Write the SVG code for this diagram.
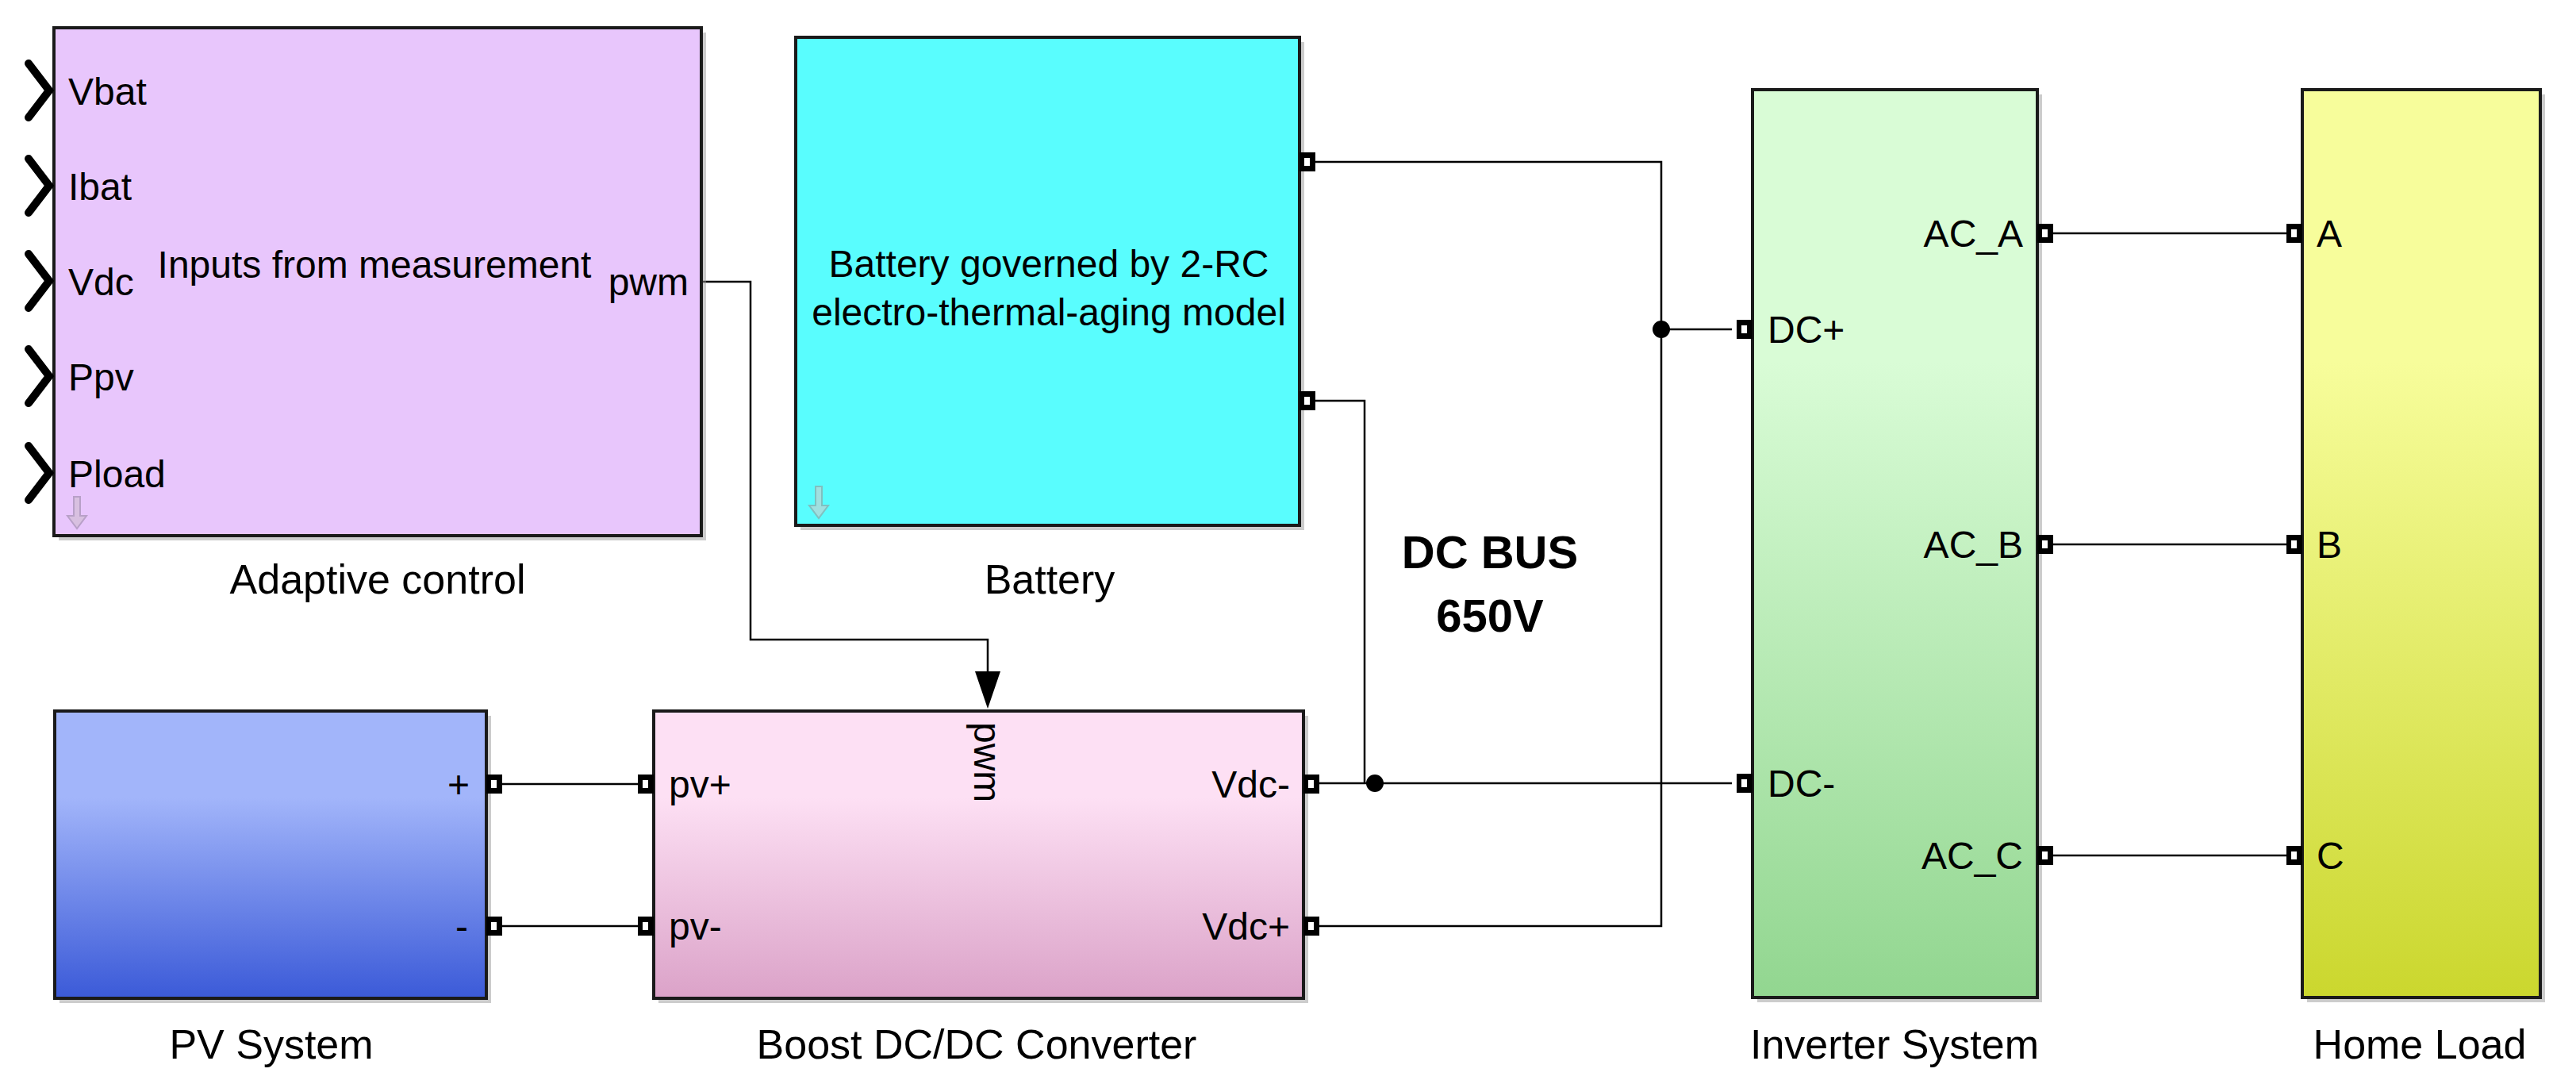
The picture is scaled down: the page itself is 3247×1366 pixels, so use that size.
<svg xmlns="http://www.w3.org/2000/svg" width="3247" height="1366" viewBox="0 0 3247 1366">
<style>
text{font-family:"Liberation Sans",Arial,sans-serif;fill:#000}
.in{font-size:48px}
.lb{font-size:52px;text-anchor:middle}
.blk{stroke:#1a1a1a;stroke-width:4}
.w{fill:none;stroke:#000;stroke-width:2.5}
.sh{fill:#999;opacity:0.5}
.chev{fill:none;stroke:#000;stroke-width:10;stroke-linecap:round;stroke-linejoin:miter}
</style>
<defs>
<g id="port"><rect x="0" y="-12" width="20" height="24" fill="#000"/><rect x="6" y="-5" width="7" height="10" fill="#fff"/></g>
<linearGradient id="gPV" x1="0" y1="0" x2="0" y2="1"><stop offset="0.3" stop-color="#a2b5fa"/><stop offset="1" stop-color="#3b5ad8"/></linearGradient>
<linearGradient id="gBo" x1="0" y1="0" x2="0" y2="1"><stop offset="0.3" stop-color="#fde0f4"/><stop offset="1" stop-color="#dba2c8"/></linearGradient>
<linearGradient id="gInv" x1="0" y1="0" x2="0" y2="1"><stop offset="0.3" stop-color="#d9fcd6"/><stop offset="1" stop-color="#92d690"/></linearGradient>
<linearGradient id="gHL" x1="0" y1="0" x2="0" y2="1"><stop offset="0.3" stop-color="#f7fd9b"/><stop offset="1" stop-color="#cbd72e"/></linearGradient>
<g id="dn"><path d="M-4,0 h8 v24 h8 l-12,16 l-12,-16 h8 z" stroke-width="2"/></g>
</defs>

<g id="connectors">
<polyline class="w" points="884,355 946,355 946,806 1245,806 1245,860"/>
<polygon points="1229,846 1261,846 1245,893" fill="#000"/>
<polyline class="w" points="1656,204 2094,204 2094,1167 1661,1167"/>
<line class="w" x1="2094" y1="415" x2="2183" y2="415"/>
<polyline class="w" points="1656,505 1720,505 1720,987"/>
<line class="w" x1="1661" y1="987" x2="2183" y2="987"/>
<circle cx="2094" cy="415" r="11" fill="#000"/>
<circle cx="1733" cy="987" r="11" fill="#000"/>
<line class="w" x1="631" y1="988" x2="806" y2="988"/>
<line class="w" x1="631" y1="1167" x2="806" y2="1167"/>
<line class="w" x1="2586" y1="294" x2="2884" y2="294"/>
<line class="w" x1="2586" y1="686" x2="2884" y2="686"/>
<line class="w" x1="2586" y1="1078" x2="2884" y2="1078"/>
</g>

<g id="adaptive">
<rect class="sh" x="74" y="41" width="816" height="640"/>
<rect class="blk" x="68" y="35" width="816" height="640" fill="#e8c6fc"/>
<polyline class="chev" points="36,80 62,114 36,148"/>
<polyline class="chev" points="36,200 62,234 36,268"/>
<polyline class="chev" points="36,320 62,354 36,388"/>
<polyline class="chev" points="36,440 62,474 36,508"/>
<polyline class="chev" points="36,562 62,596 36,630"/>
<text class="in" x="86" y="132">Vbat</text>
<text class="in" x="86" y="252">Ibat</text>
<text class="in" x="86" y="372">Vdc</text>
<text class="in" x="86" y="492">Ppv</text>
<text class="in" x="86" y="614">Pload</text>
<text class="in" x="472" y="350" text-anchor="middle">Inputs from measurement</text>
<text class="in" x="868" y="372" text-anchor="end">pwm</text>
<use href="#dn" x="97" y="626" fill="#d8c0e0" stroke="#b8a0c8"/>
<text class="lb" x="476" y="748">Adaptive control</text>
</g>

<g id="battery">
<rect class="sh" x="1009" y="53" width="635" height="615"/>
<rect class="blk" x="1003" y="47" width="635" height="615" fill="#59fdfe"/>
<text class="in" x="1322" y="349" text-anchor="middle">Battery governed by 2-RC</text>
<text class="in" x="1322" y="410" text-anchor="middle">electro-thermal-aging model</text>
<use href="#dn" x="1032" y="613" fill="#a0e0e0" stroke="#80c0c0"/>
<use href="#port" x="1638" y="204"/>
<use href="#port" x="1638" y="505"/>
<text class="lb" x="1323" y="748">Battery</text>
</g>

<g id="pv">
<rect class="sh" x="75" y="902" width="544" height="362"/>
<rect class="blk" x="69" y="896" width="544" height="362" fill="url(#gPV)"/>
<text class="in" x="592" y="1005" text-anchor="end">+</text>
<text class="in" x="590" y="1184" text-anchor="end">-</text>
<use href="#port" x="613" y="988"/>
<use href="#port" x="613" y="1167"/>
<text class="lb" x="342" y="1334">PV System</text>
</g>

<g id="boost">
<rect class="sh" x="830" y="902" width="819" height="362"/>
<rect class="blk" x="824" y="896" width="819" height="362" fill="url(#gBo)"/>
<use href="#port" x="804" y="988"/>
<use href="#port" x="804" y="1167"/>
<use href="#port" x="1643" y="988"/>
<use href="#port" x="1643" y="1167"/>
<text class="in" x="843" y="1005">pv+</text>
<text class="in" x="843" y="1184">pv-</text>
<text class="in" x="1626" y="1005" text-anchor="end">Vdc-</text>
<text class="in" x="1626" y="1184" text-anchor="end">Vdc+</text>
<text class="in" transform="translate(1228,910) rotate(90)">pwm</text>
<text class="lb" x="1231" y="1334">Boost DC/DC Converter</text>
</g>

<text x="1878" y="716" font-size="58" font-weight="bold" text-anchor="middle">DC BUS</text>
<text x="1878" y="796" font-size="58" font-weight="bold" text-anchor="middle">650V</text>

<g id="inverter">
<rect class="sh" x="2215" y="119" width="359" height="1144"/>
<rect class="blk" x="2209" y="113" width="359" height="1144" fill="url(#gInv)"/>
<use href="#port" x="2189" y="415"/>
<use href="#port" x="2189" y="987"/>
<use href="#port" x="2568" y="294"/>
<use href="#port" x="2568" y="686"/>
<use href="#port" x="2568" y="1078"/>
<text class="in" x="2228" y="432">DC+</text>
<text class="in" x="2228" y="1004">DC-</text>
<text class="in" x="2550" y="311" text-anchor="end">AC_A</text>
<text class="in" x="2550" y="703" text-anchor="end">AC_B</text>
<text class="in" x="2550" y="1095" text-anchor="end">AC_C</text>
<text class="lb" x="2388" y="1334">Inverter System</text>
</g>

<g id="homeload">
<rect class="sh" x="2908" y="119" width="300" height="1144"/>
<rect class="blk" x="2902" y="113" width="300" height="1144" fill="url(#gHL)"/>
<use href="#port" x="2882" y="294"/>
<use href="#port" x="2882" y="686"/>
<use href="#port" x="2882" y="1078"/>
<text class="in" x="2920" y="311">A</text>
<text class="in" x="2920" y="703">B</text>
<text class="in" x="2920" y="1095">C</text>
<text class="lb" x="3050" y="1334">Home Load</text>
</g>
</svg>
